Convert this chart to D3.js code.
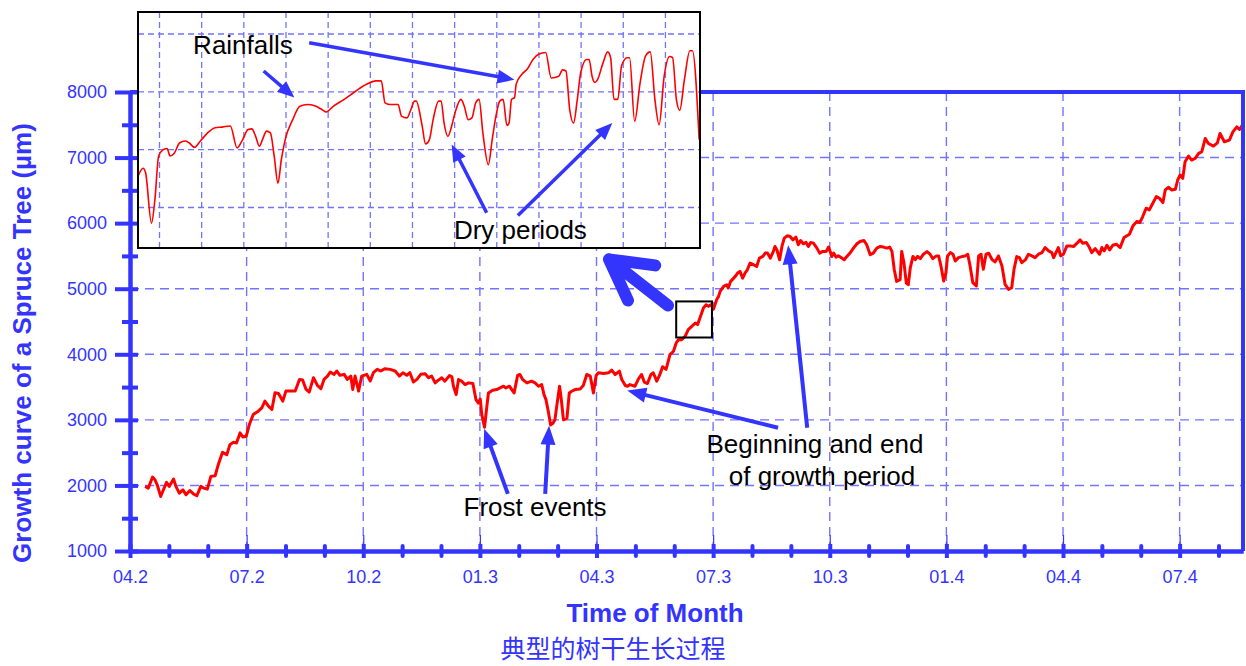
<!DOCTYPE html>
<html>
<head>
<meta charset="utf-8">
<script src="https://cdn.jsdelivr.net/npm/d3@7"></script>
<style>
    body { margin: 0; background: #fff; }
    svg { display: block; font-family: "Liberation Sans", Arial, sans-serif; }
</style>
</head>
<body>
<svg id="chart" width="1246" height="666"></svg>
<script>
'use strict';

// x axis: months since 04.2 (0 = April of year 2)
var monthTicks = [0, 3, 6, 9, 12, 15, 18, 21, 24, 27];
var monthLabels = ['04.2', '07.2', '10.2', '01.3', '04.3', '07.3', '10.3', '01.4', '04.4', '07.4'];
var minorMonths = d3.range(0, 29).filter(function(m) { return m % 3 !== 0; });
var umTicks = [1000, 2000, 3000, 4000, 5000, 6000, 7000, 8000];
var umMinor = [1500, 2500, 3500, 4500, 5500, 6500, 7500];

// growth curve (month, µm)
var growthMonth = [
    0.39, 0.47, 0.58, 0.64, 0.70, 0.79, 0.86, 0.94, 1.01, 1.12,
    1.18, 1.27, 1.36, 1.44, 1.54, 1.63, 1.72, 1.82, 1.90, 1.99,
    2.08, 2.19, 2.27, 2.38, 2.49, 2.57, 2.66, 2.74, 2.83, 2.90,
    2.99, 3.07, 3.17, 3.30, 3.39, 3.47, 3.56, 3.65, 3.73, 3.82,
    3.93, 4.01, 4.25, 4.36, 4.44, 4.53, 4.61, 4.72, 4.82, 4.91,
    4.99, 5.08, 5.15, 5.25, 5.32, 5.40, 5.51, 5.59, 5.68, 5.73,
    5.79, 5.88, 5.96, 6.09, 6.18, 6.26, 6.36, 6.45, 6.56, 6.69,
    6.82, 6.93, 7.02, 7.12, 7.20, 7.29, 7.38, 7.48, 7.59, 7.68,
    7.76, 7.85, 7.93, 8.02, 8.10, 8.22, 8.28, 8.32, 8.39, 8.45,
    8.53, 8.62, 8.71, 8.82, 8.90, 8.96, 9.01, 9.05, 9.12, 9.18,
    9.22, 9.33, 9.43, 9.52, 9.61, 9.67, 9.76, 9.82, 9.88, 9.97,
    10.03, 10.10, 10.21, 10.33, 10.42, 10.51, 10.59, 10.65, 10.70, 10.76,
    10.82, 10.88, 10.93, 11.00, 11.05, 11.09, 11.15, 11.24, 11.30, 11.36,
    11.45, 11.58, 11.66, 11.75, 11.84, 11.92, 11.99, 12.05, 12.18, 12.31,
    12.39, 12.48, 12.59, 12.65, 12.74, 12.80, 12.86, 12.99, 13.08, 13.16,
    13.23, 13.31, 13.40, 13.46, 13.55, 13.62, 13.70, 13.79, 13.89, 13.98,
    14.05, 14.11, 14.19, 14.28, 14.36, 14.45, 14.54, 14.60, 14.66, 14.75,
    14.82, 14.88, 14.94, 15.01, 15.09, 15.14, 15.18, 15.27, 15.35, 15.39,
    15.45, 15.57, 15.63, 15.69, 15.76, 15.82, 15.88, 15.95, 16.04, 16.12,
    16.19, 16.28, 16.34, 16.40, 16.47, 16.55, 16.59, 16.64, 16.71, 16.77,
    16.83, 16.91, 16.98, 17.05, 17.13, 17.19, 17.25, 17.32, 17.39, 17.45,
    17.51, 17.58, 17.67, 17.74, 17.82, 17.91, 17.97, 18.01, 18.05, 18.10,
    18.16, 18.22, 18.31, 18.37, 18.44, 18.52, 18.61, 18.70, 18.78, 18.88,
    18.95, 19.04, 19.12, 19.21, 19.30, 19.38, 19.47, 19.54, 19.60, 19.66,
    19.72, 19.81, 19.85, 19.91, 19.97, 20.02, 20.07, 20.14, 20.20, 20.26,
    20.33, 20.41, 20.50, 20.58, 20.65, 20.74, 20.80, 20.86, 20.93, 20.99,
    21.03, 21.10, 21.17, 21.23, 21.31, 21.40, 21.48, 21.55, 21.61, 21.68,
    21.77, 21.83, 21.89, 21.95, 22.02, 22.09, 22.17, 22.25, 22.34, 22.43,
    22.51, 22.60, 22.68, 22.74, 22.81, 22.88, 22.94, 23.03, 23.11, 23.20,
    23.28, 23.37, 23.46, 23.54, 23.63, 23.71, 23.76, 23.82, 23.88, 23.94,
    24.01, 24.10, 24.18, 24.27, 24.36, 24.44, 24.51, 24.60, 24.68, 24.74,
    24.83, 24.94, 25.00, 25.06, 25.13, 25.20, 25.28, 25.37, 25.47, 25.57,
    25.71, 25.80, 25.90, 25.98, 26.05, 26.14, 26.22, 26.31, 26.40, 26.48,
    26.57, 26.63, 26.71, 26.80, 26.89, 26.95, 27.01, 27.08, 27.14, 27.23,
    27.31, 27.40, 27.49, 27.57, 27.66, 27.74, 27.87, 27.97, 28.04, 28.15,
    28.28, 28.37, 28.47, 28.54, 28.61
];
var growthUm = [
    1985, 1959, 2128, 2087, 2010, 1832, 1934, 2046, 1985, 2097,
    1985, 1883, 1934, 1857, 1923, 1872, 1842, 1985, 1959, 1944,
    2138, 2148, 2316, 2505, 2469, 2622, 2658, 2648, 2801, 2740,
    2750, 2929, 3082, 3133, 3184, 3286, 3209, 3158, 3413, 3403,
    3286, 3439, 3439, 3617, 3607, 3464, 3424, 3643, 3526, 3475,
    3617, 3668, 3730, 3694, 3745, 3679, 3694, 3617, 3668, 3464,
    3668, 3439, 3668, 3694, 3592, 3719, 3770, 3745, 3781, 3770,
    3745, 3668, 3719, 3679, 3719, 3577, 3617, 3694, 3704, 3643,
    3667, 3564, 3605, 3641, 3590, 3677, 3656, 3513, 3385, 3615,
    3590, 3538, 3564, 3554, 3308, 3256, 3318, 3077, 2887, 3205,
    3410, 3451, 3462, 3487, 3513, 3487, 3513, 3462, 3410, 3677,
    3692, 3615, 3564, 3590, 3564, 3513, 3538, 3385, 3308, 3128,
    2923, 2949, 3000, 3308, 3513, 3333, 3000, 3026, 3410, 3436,
    3462, 3472, 3523, 3692, 3667, 3410, 3677, 3718, 3708, 3718,
    3759, 3692, 3744, 3615, 3523, 3513, 3538, 3513, 3626, 3692,
    3574, 3554, 3692, 3718, 3590, 3677, 3810, 3769, 3995, 4046,
    4173, 4223, 4223, 4274, 4376, 4426, 4477, 4452, 4553, 4706,
    4756, 4731, 4756, 4690, 4833, 4883, 4959, 5036, 5061, 5010,
    5112, 5188, 5239, 5264, 5162, 5239, 5289, 5391, 5366, 5340,
    5467, 5492, 5543, 5543, 5467, 5569, 5645, 5594, 5442, 5645,
    5772, 5807, 5797, 5746, 5787, 5670, 5736, 5685, 5706, 5645,
    5706, 5695, 5619, 5543, 5569, 5569, 5635, 5569, 5492, 5543,
    5482, 5503, 5467, 5442, 5492, 5543, 5619, 5685, 5721, 5736,
    5670, 5518, 5543, 5619, 5645, 5635, 5619, 5635, 5569, 5289,
    5112, 5137, 5569, 5391, 5086, 5061, 5315, 5492, 5442, 5492,
    5459, 5526, 5566, 5526, 5459, 5500, 5500, 5347, 5117, 5245,
    5500, 5551, 5526, 5423, 5474, 5490, 5500, 5526, 5347, 5092,
    5041, 5500, 5526, 5296, 5526, 5541, 5449, 5408, 5500, 5347,
    5066, 4990, 5015, 5296, 5490, 5474, 5398, 5439, 5526, 5500,
    5474, 5526, 5551, 5628, 5577, 5551, 5474, 5551, 5628, 5500,
    5526, 5653, 5653, 5643, 5694, 5745, 5694, 5704, 5628, 5551,
    5612, 5526, 5628, 5577, 5663, 5592, 5663, 5679, 5628, 5781,
    5832, 5959, 6025, 6010, 6101, 6228, 6203, 6304, 6405, 6380,
    6314, 6506, 6547, 6506, 6516, 6658, 6734, 6684, 6937, 7023,
    6962, 6987, 7063, 7089, 7291, 7215, 7175, 7225, 7367, 7241,
    7266, 7392, 7468, 7428, 7494
];

// inset: magnified stretch, in inset grid units
var insetT = [
    -0.51, -0.39, -0.33, -0.19, -0.11, -0.02, 0.09, 0.18, 0.25, 0.35,
    0.48, 0.61, 0.70, 0.83, 0.97, 1.14, 1.32, 1.49, 1.68, 1.84,
    1.97, 2.10, 2.19, 2.28, 2.37, 2.44, 2.54, 2.63, 2.72, 2.81,
    2.89, 2.98, 3.16, 3.33, 3.51, 3.68, 3.86, 3.95, 4.12, 4.38,
    4.65, 4.91, 5.13, 5.26, 5.35, 5.48, 5.66, 5.74, 5.87, 5.96,
    6.05, 6.09, 6.23, 6.31, 6.40, 6.49, 6.62, 6.68, 6.75, 6.84,
    6.93, 7.01, 7.15, 7.23, 7.32, 7.41, 7.50, 7.58, 7.67, 7.80,
    7.89, 7.98, 8.07, 8.15, 8.24, 8.29, 8.35, 8.42, 8.46, 8.59,
    8.72, 8.86, 8.99, 9.16, 9.29, 9.47, 9.56, 9.64, 9.73, 9.82,
    9.91, 9.99, 10.13, 10.19, 10.26, 10.33, 10.39, 10.52, 10.63, 10.70,
    10.78, 10.87, 10.96, 11.09, 11.15, 11.27, 11.40, 11.53, 11.64, 11.75,
    11.85, 11.97, 12.10, 12.17, 12.26, 12.34, 12.45, 12.58, 12.64, 12.80
];
var insetV = [
    0.54, 0.68, 0.60, -0.27, 0.13, 0.89, 1.00, 1.02, 0.89, 0.94,
    1.12, 1.15, 1.12, 1.04, 1.15, 1.29, 1.38, 1.39, 1.41, 1.03,
    1.17, 1.35, 1.36, 1.23, 1.06, 1.17, 1.32, 1.29, 0.89, 0.42,
    0.83, 1.17, 1.52, 1.75, 1.78, 1.76, 1.69, 1.65, 1.75, 1.87,
    2.01, 2.13, 2.19, 2.19, 1.81, 1.78, 1.78, 1.58, 1.55, 1.69,
    1.84, 1.84, 1.41, 1.10, 1.17, 1.52, 1.84, 1.84, 1.46, 1.23,
    1.41, 1.64, 1.87, 1.75, 1.52, 1.55, 1.81, 1.87, 1.29, 0.74,
    1.17, 1.58, 1.84, 1.87, 1.42, 1.46, 1.87, 1.90, 2.13, 2.30,
    2.39, 2.56, 2.65, 2.68, 2.24, 2.27, 2.38, 2.36, 1.69, 1.46,
    1.87, 2.33, 2.56, 2.56, 2.27, 2.16, 2.21, 2.50, 2.69, 2.59,
    1.87, 1.87, 2.45, 2.59, 2.59, 1.49, 2.16, 2.62, 2.69, 1.87,
    1.43, 2.27, 2.61, 2.59, 1.87, 1.68, 2.21, 2.71, 2.71, 1.17
];
var insetGridT = d3.range(0, 13);
var insetGridV = [0, 1, 2, 3];

var BLUE = '#3434ff';
var GRID = '#7373ff';

var svg = d3.select('#chart');

var x = d3.scaleLinear().domain([0, 28.63]).range([130, 1243]);
var y = d3.scaleLinear().domain([1000, 8000]).range([551, 92]);
function pt(d) { return [x(d[0]), y(d[1])]; }

//* dashed grid
var grid = svg.append('g')
    .attr('stroke', GRID).attr('stroke-width', 1.4).attr('stroke-dasharray', '9,6');
grid.selectAll('line.v').data(monthTicks.slice(1)).enter().append('line')
    .attr('class', 'v')
    .attr('x1', function(d) { return x(d); }).attr('x2', function(d) { return x(d); })
    .attr('y1', y(8000)).attr('y2', y(1000));
grid.selectAll('line.h').data(umTicks.slice(1, -1)).enter().append('line')
    .attr('class', 'h')
    .attr('x1', x(0)).attr('x2', x(28.63))
    .attr('y1', function(d) { return y(d); }).attr('y2', function(d) { return y(d); });

// growth curve
var growth = growthMonth.map(function(m, i) { return [m, growthUm[i]]; });
svg.append('path')
    .datum(growth)
    .attr('fill', 'none').attr('stroke', '#ff0000').attr('stroke-width', 3)
    .attr('stroke-linejoin', 'round')
    .attr('d', d3.line().x(function(d) { return x(d[0]); }).y(function(d) { return y(d[1]); }));

// frame top / right
svg.append('line').attr('x1', x(0)).attr('x2', x(28.63)).attr('y1', y(8000)).attr('y2', y(8000))
    .attr('stroke', BLUE).attr('stroke-width', 4);
svg.append('line').attr('x1', x(28.63)).attr('x2', x(28.63)).attr('y1', y(8000) - 2).attr('y2', y(1000))
    .attr('stroke', BLUE).attr('stroke-width', 4);

//* axes
function styleAxis(g) {
    g.attr('color', BLUE).attr('font-family', null).attr('font-size', 18);
    g.select('.domain').attr('stroke-width', 4);
    g.selectAll('.tick line').attr('stroke-width', 4);
}
var xMinor = svg.append('g').attr('transform', 'translate(0,' + y(1000) + ')')
    .call(d3.axisBottom(x).tickValues(minorMonths).tickFormat('').tickSize(5).tickSizeOuter(0));
styleAxis(xMinor);
xMinor.selectAll('.tick line').attr('y1', -5).attr('stroke-linecap', 'round');

var xMajor = svg.append('g').attr('transform', 'translate(0,' + y(1000) + ')')
    .call(d3.axisBottom(x).tickValues(monthTicks)
        .tickFormat(function(d, i) { return monthLabels[i]; })
        .tickSize(7).tickSizeOuter(0).tickPadding(12));
styleAxis(xMajor);
xMajor.selectAll('.tick line').attr('y1', -7);
xMajor.selectAll('.tick').append('line')
    .attr('y1', -16).attr('y2', -7).attr('stroke', 'currentColor').attr('stroke-width', 1.2);

var yMinor = svg.append('g').attr('transform', 'translate(' + x(0) + ',0)')
    .call(d3.axisLeft(y).tickValues(umMinor).tickFormat('').tickSize(8).tickSizeOuter(0));
styleAxis(yMinor);
yMinor.selectAll('.tick line').attr('x1', 8);

var yMajor = svg.append('g').attr('transform', 'translate(' + x(0) + ',0)')
    .call(d3.axisLeft(y).tickValues(umTicks).tickFormat(d3.format('d')).tickSize(15).tickSizeOuter(0).tickPadding(8));
styleAxis(yMajor);
yMajor.selectAll('.tick line').attr('x1', 8);

// titles
svg.append('text')
    .attr('transform', 'translate(31,343) rotate(-90)')
    .attr('text-anchor', 'middle').attr('fill', BLUE)
    .attr('font-size', 26).attr('font-weight', 'bold')
    .text('Growth curve of a Spruce Tree (µm)');
svg.append('text')
    .attr('x', 655).attr('y', 622).attr('text-anchor', 'middle').attr('fill', BLUE)
    .attr('font-size', 26).attr('font-weight', 'bold')
    .text('Time of Month');
svg.append('text')
    .attr('x', 613).attr('y', 658).attr('text-anchor', 'middle').attr('fill', BLUE)
    .attr('font-size', 25).attr('font-family', '"Noto Sans CJK SC", sans-serif')
    .text('典型的树干生长过程');

//* arrows
function arrow(g, p0, p1, w, hl, hw) {
    var dx = p1[0] - p0[0], dy = p1[1] - p0[1];
    var len = Math.sqrt(dx * dx + dy * dy), ux = dx / len, uy = dy / len;
    var bx = p1[0] - ux * hl, by = p1[1] - uy * hl;
    g.append('line')
        .attr('x1', p0[0]).attr('y1', p0[1]).attr('x2', bx + ux).attr('y2', by + uy)
        .attr('stroke', BLUE).attr('stroke-width', w);
    g.append('path')
        .attr('d', 'M' + p1 + 'L' + [bx - uy * hw / 2, by + ux * hw / 2] + 'L' + [bx + uy * hw / 2, by - ux * hw / 2] + 'Z')
        .attr('fill', BLUE);
}

var notes = svg.append('g');
arrow(notes, pt([9.72, 1872]), pt([9.11, 2865]), 4, 19, 15);
arrow(notes, pt([10.68, 1872]), pt([10.78, 2911]), 4, 19, 15);
arrow(notes, pt([16.67, 2880]), pt([12.79, 3446]), 4, 19, 15);
arrow(notes, pt([17.42, 2880]), pt([16.93, 5662]), 4, 19, 15);

function label(g, p, txt) {
    g.append('text').attr('x', p[0]).attr('y', p[1]).attr('text-anchor', 'middle')
        .attr('font-size', 26).attr('fill', '#000').text(txt);
}
label(notes, pt([10.42, 1535]), 'Frost events');
label(notes, pt([17.62, 2498]), 'Beginning and end');
label(notes, pt([17.80, 2009]), 'of growth period');

// zoom box and thick pointer to the inset
var b0 = pt([14.05, 4806]), b1 = pt([14.97, 4256]);
notes.append('rect').attr('x', b0[0]).attr('y', b0[1])
    .attr('width', b1[0] - b0[0]).attr('height', b1[1] - b0[1])
    .attr('fill', 'none').attr('stroke', '#000').attr('stroke-width', 2);
notes.append('path')
    .attr('d', 'M' + pt([13.84, 4745]) + 'L' + pt([12.32, 5448]) +
        'M' + pt([13.51, 5356]) + 'L' + pt([12.32, 5448]) + 'L' + pt([12.81, 4821]))
    .attr('fill', 'none').attr('stroke', BLUE).attr('stroke-width', 12)
    .attr('stroke-linecap', 'round').attr('stroke-linejoin', 'round');

//* inset
var ix = d3.scaleLinear().domain([-0.51, 12.82]).range([138, 700]);
var iy = d3.scaleLinear().domain([-0.70, 3.38]).range([248, 12]);
function ipt(d) { return [ix(d[0]), iy(d[1])]; }

var inset = svg.append('g');
inset.append('rect').attr('x', 138).attr('y', 12).attr('width', 562).attr('height', 236).attr('fill', '#fff');
inset.append('clipPath').attr('id', 'insetClip')
    .append('rect').attr('x', 138).attr('y', 12).attr('width', 562).attr('height', 236);
var ig = inset.append('g')
    .attr('stroke', GRID).attr('stroke-width', 1.3).attr('stroke-dasharray', '6,4');
ig.selectAll('line.v').data(insetGridT).enter().append('line')
    .attr('x1', function(d) { return ix(d); }).attr('x2', function(d) { return ix(d); })
    .attr('y1', iy(3.38)).attr('y2', iy(-0.70));
ig.selectAll('line.h').data(insetGridV).enter().append('line')
    .attr('x1', ix(-0.51)).attr('x2', ix(12.82))
    .attr('y1', function(d) { return iy(d); }).attr('y2', function(d) { return iy(d); });

var insetData = insetT.map(function(t, i) { return [t, insetV[i]]; });
inset.append('path')
    .datum(insetData)
    .attr('clip-path', 'url(#insetClip)')
    .attr('fill', 'none').attr('stroke', '#ff0000').attr('stroke-width', 1.6)
    .attr('d', d3.line().curve(d3.curveMonotoneX)
        .x(function(d) { return ix(d[0]); }).y(function(d) { return iy(d[1]); }));

inset.append('rect').attr('x', 138).attr('y', 12).attr('width', 562).attr('height', 236)
    .attr('fill', 'none').attr('stroke', '#000').attr('stroke-width', 2);

label(inset, ipt([1.98, 2.65]), 'Rainfalls');
label(inset, ipt([8.56, -0.54]), 'Dry periods');
arrow(inset, ipt([3.55, 2.85]), ipt([8.42, 2.21]), 3.5, 17, 14);
arrow(inset, ipt([2.47, 2.36]), ipt([3.20, 1.90]), 3.5, 17, 14);
arrow(inset, ipt([7.76, -0.09]), ipt([6.93, 1.09]), 3.5, 17, 14);
arrow(inset, ipt([8.50, -0.14]), ipt([10.74, 1.46]), 3.5, 17, 14);
</script>
</body>
</html>
